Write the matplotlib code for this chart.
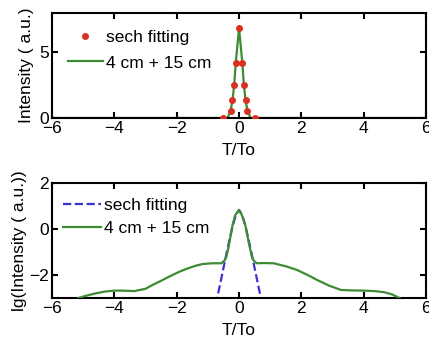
import matplotlib
matplotlib.use("Agg")
import matplotlib.pyplot as plt

plt.rcParams['font.family'] = ['Liberation Sans', 'DejaVu Sans']
plt.rcParams['font.size'] = 12.5

# linear intensity: sech fit points and measured pulse
fit_t = [-0.5, -0.27, -0.21, -0.156, -0.106, 0, 0.106, 0.156, 0.21, 0.27, 0.5]
fit_i = [0.02, 0.55, 1.36, 2.48, 4.19, 6.84, 4.19, 2.48, 1.36, 0.55, 0.02]

meas_t = [-6, -0.37, -0.27, -0.21, -0.156, -0.106, 0, 0.106, 0.156, 0.21, 0.27, 0.37, 6]
meas_i = [0, 0, 0.55, 1.36, 2.48, 4.19, 6.84, 4.19, 2.48, 1.36, 0.55, 0, 0]

# log intensity
lg_fit_t = [-0.75, -0.7, -0.6, -0.5, -0.4, -0.3, -0.2, -0.1, 0, 0.1, 0.2, 0.3, 0.4, 0.5, 0.6, 0.7, 0.75]
lg_fit_i = [-3.3, -3.0, -2.35, -1.70, -1.05, -0.42, 0.15, 0.62, 0.83, 0.62, 0.15, -0.42, -1.05, -1.70, -2.35, -3.0, -3.3]

lg_t = [-5.15, -4.9, -4.6, -4.3, -4.0, -3.7, -3.36, -3.0, -2.77, -2.5, -2.24, -1.95,
        -1.70, -1.40, -1.16, -0.85, -0.57, -0.47, -0.41, -0.33, -0.21, -0.12, 0.0,
        0.09, 0.2, 0.33, 0.41, 0.47, 0.57, 0.8, 1.11, 1.5, 1.86, 2.2, 2.51, 2.9,
        3.27, 3.6, 4.02, 4.35, 4.66, 4.9, 5.15]
lg_i = [-3.0, -2.9, -2.80, -2.72, -2.68, -2.68, -2.70, -2.60, -2.43, -2.25, -2.07, -1.88,
        -1.74, -1.60, -1.52, -1.49, -1.49, -1.38, -1.22, -0.75, 0.17, 0.61, 0.83,
        0.61, 0.17, -0.70, -1.20, -1.38, -1.49, -1.48, -1.49, -1.62, -1.78, -2.0, -2.22, -2.47,
        -2.65, -2.67, -2.68, -2.70, -2.75, -2.84, -3.0]

green = '#3c8c32'
red = '#d93020'
blue = '#3c32d2'

fig = plt.figure(figsize=(4.29, 3.42), dpi=100)
ax1 = fig.add_axes([0.1212, 0.655, 0.872, 0.307])
ax2 = fig.add_axes([0.1212, 0.1287, 0.872, 0.336])

ax1.plot(meas_t, meas_i, color=green, lw=1.6, label='4 cm + 15 cm', zorder=2)
ax1.plot(fit_t, fit_i, 'o', color=red, ms=4, label='sech fitting', zorder=3)
ax1.set_xlim(-6, 6)
ax1.set_ylim(0, 8)
ax1.set_yticks([0, 5])
ax1.set_xlabel('T/To', labelpad=5)
ax1.set_ylabel('Intensity ( a.u.)', labelpad=4)
h, l = ax1.get_legend_handles_labels()
ax1.legend(h[::-1], l[::-1], loc='upper left', bbox_to_anchor=(0.043, 0.84),
           frameon=False, borderpad=0, borderaxespad=0, numpoints=1,
           handlelength=2.0, handletextpad=0.2, labelspacing=0.6)

ax2.plot(lg_fit_t, lg_fit_i, '--', color=blue, lw=1.6, label='sech fitting', zorder=2)
ax2.plot(lg_t, lg_i, color=green, lw=1.6, label='4 cm + 15 cm', zorder=3)
ax2.set_xlim(-6, 6)
ax2.set_ylim(-3, 2)
ax2.set_yticks([-2, 0, 2])
ax2.set_xlabel('T/To', labelpad=5)
ax2.set_ylabel('lg(Intensity ( a.u.))', labelpad=2)
ax2.legend(loc='upper left', bbox_to_anchor=(0.03, 0.87),
           frameon=False, borderpad=0, borderaxespad=0,
           handlelength=2.2, handletextpad=0.15, labelspacing=0.45)

for ax in (ax1, ax2):
    ax.set_xticks(range(-6, 7, 2))
    ax.tick_params(direction='in', top=True, right=True, length=4, width=1.5, pad=2)
    for s in ax.spines.values():
        s.set_linewidth(1.5)

fig.savefig('out.png', dpi=100)
